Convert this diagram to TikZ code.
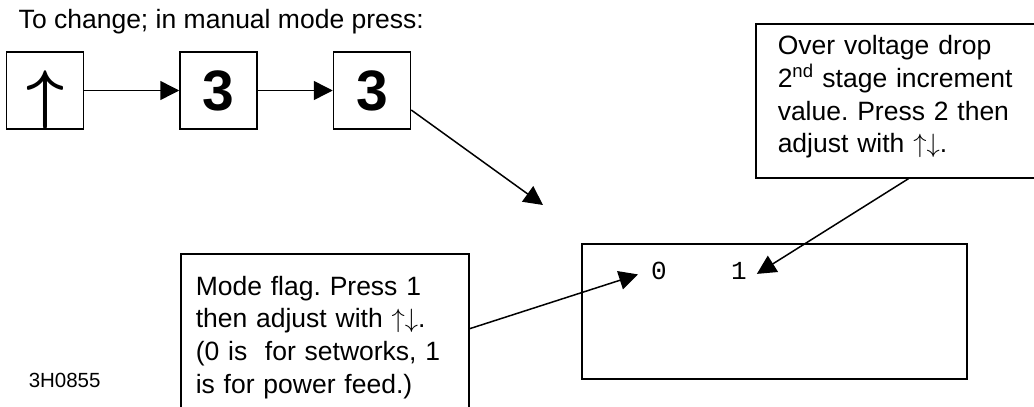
\RequirePackage{fix-cm}
\documentclass[tikz,border=0pt]{standalone}
\usepackage{fontspec}
\setmainfont{Liberation Sans}
\newfontfamily\lcdfont{Liberation Mono}
\usetikzlibrary{arrows.meta}
\frenchspacing
\tikzstyle{panel}=[x=1pt, y=-1pt, line width=1.5pt, font=\fontsize{26.5}{32.7}\selectfont]
\tikzstyle{key}=[rectangle, draw, inner sep=0pt, minimum width=77pt, minimum height=77pt, font=\fontsize{57}{60}\selectfont\bfseries]
\tikzstyle{callout}=[rectangle, draw, anchor=north west, align=left, inner xsep=22pt, inner ysep=0pt]
\tikzstyle{display}=[rectangle, draw, minimum width=385pt, minimum height=135pt]
\tikzstyle{digit}=[inner sep=0pt, anchor=base, font=\lcdfont\fontsize{26}{26}\selectfont]
\tikzstyle{caption}=[anchor=base west, inner sep=0pt]
\tikzstyle{edge}=[-{Triangle[length=19pt, width=19pt]}]
\newcommand{\updown}{$\uparrow\downarrow$}
\begin{document}
\begin{tikzpicture}[panel]
	\useasboundingbox (0,0) rectangle (1034,407);
	\clip (0,0) rectangle (1034,407);

	%The heading
	\draw (18,28) node[caption] (title) {To change; in manual mode press:};
	\draw (28,387) node[caption, font=\fontsize{20.5}{24}\selectfont] (code) {3H0855};

	%The key sequence
	\draw (45,90.5) node[key, font=\fontsize{66}{66}\selectfont] (up) {\raisebox{-9pt}[\height][\depth]{\boldmath$\uparrow$}};
	\draw (218.5,90.5) node[key] (three1) {3};
	\draw (372,90.5) node[key] (three2) {3};
	\coordinate (disp) at (543,205);

	\draw[edge] (up) -- (three1);
	\draw[edge] (three1) -- (three2);
	\draw[edge] ([yshift=-19.5pt]three2.east) -- (disp);

	%The display
	\draw (774.5,311.5) node[display] (lcd) {};
	\draw (659,279) node[digit] (zero) {0};
	\draw (739,279) node[digit] (one) {1};

	%The callouts
	\draw (755,23) node[callout, text width=262pt, minimum height=154pt] (volt)
	{Over voltage drop\\2\textsuperscript{nd} stage increment\\value. Press 2 then\\adjust with \updown.\rule[-13pt]{0pt}{13pt}};
	\draw (180,253) node[callout, text width=258pt, inner xsep=15pt, minimum height=167pt] (mode)
	{Mode flag. Press 1\\then adjust with \updown.\\(0 is~ for setworks, 1\\is for power feed.)};

	\draw[edge, shorten >=13pt] ([yshift=8.5pt]mode.east) -- (zero.west);
	\draw[edge, shorten >=11pt] (volt.south) -- (one.south east);
\end{tikzpicture}
\end{document}
